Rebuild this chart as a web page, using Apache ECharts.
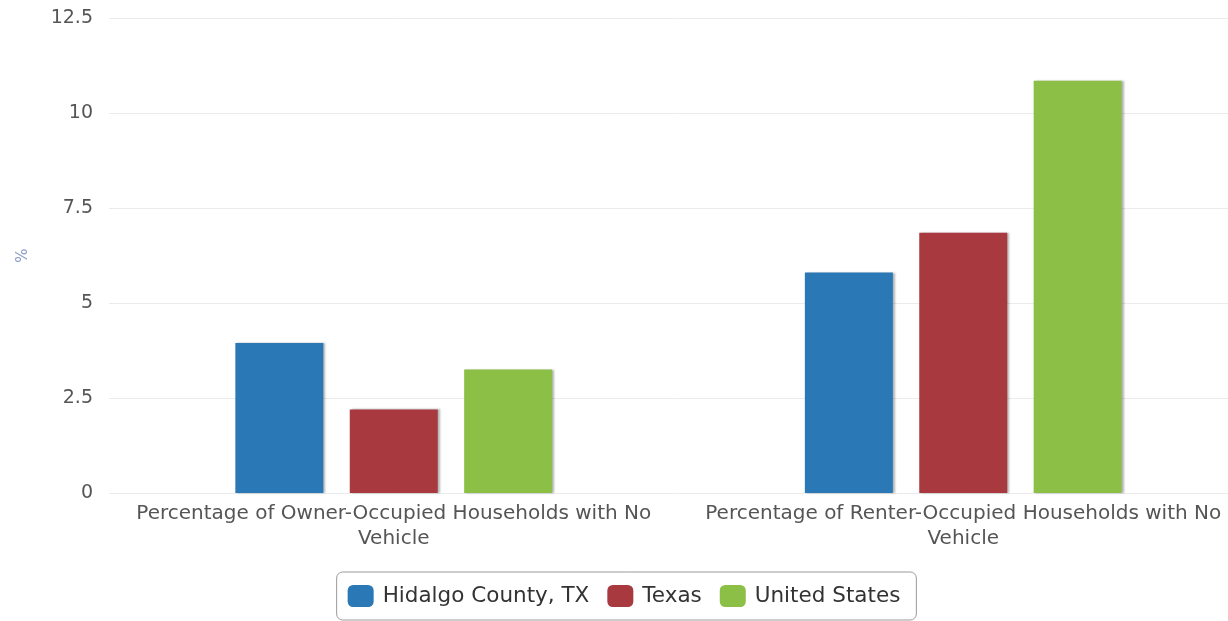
<!DOCTYPE html>
<html><head><meta charset="utf-8">
<script src="https://cdn.jsdelivr.net/npm/echarts@6/dist/echarts.min.js"></script>
<style>html,body{margin:0;padding:0;background:#fff;overflow:hidden}#c{width:1248px;height:621px}</style>
</head><body><div id="c"></div>
<script>
const categories = ["Percentage of Owner-Occupied Households with No\nVehicle", "Percentage of Renter-Occupied Households with No\nVehicle"];
const seriesNames = ["Hidalgo County, TX", "Texas", "United States"];
const hidalgo = [3.95, 5.8];
const texas = [2.2, 6.85];
const unitedStates = [3.25, 10.85];
const yTicks = [0, 2.5, 5, 7.5, 10, 12.5];
const colors = ["#2a79b6", "#a8393e", "#8bbf45"];

const font = "DejaVu Sans";
const chart = echarts.init(document.getElementById('c'));
const values = [hidalgo, texas, unitedStates];
chart.setOption({
  animation: false,
  textStyle: {fontFamily: font},
  grid: {left: 109, top: 18, right: 0, height: 475, containLabel: false},
  legend: {
    bottom: 1, left: 'center',
    data: seriesNames,
    itemWidth: 26, itemHeight: 22, itemGap: 18,
    icon: 'roundRect',
    borderColor: '#999', borderWidth: 1, borderRadius: 6,
    padding: [13, 16, 13, 11],
    textStyle: {fontFamily: font, fontSize: 21.5, color: '#333', padding: [0, 0, 0, 4]}
  },
  xAxis: {
    type: 'category', data: categories,
    axisLine: {show: false}, axisTick: {show: false},
    axisLabel: {fontFamily: font, fontSize: 20, color: '#555', lineHeight: 25, margin: 8, interval: 0}
  },
  yAxis: {
    type: 'value', min: 0, max: 12.5, interval: 2.5,
    name: '%', nameLocation: 'middle', nameGap: 78, nameRotate: 90,
    nameTextStyle: {color: '#8a9cc8', fontSize: 15, fontFamily: font},
    axisLabel: {fontFamily: font, fontSize: 19, color: '#555', margin: 16,
      formatter: v => yTicks.includes(v) ? String(v) : ''},
    splitLine: {lineStyle: {color: '#ebebeb', width: 1}},
    axisLine: {show: false}, axisTick: {show: false}
  },
  series: seriesNames.map((n, i) => ({
    name: n, type: 'bar', data: values[i],
    barWidth: 88, barGap: '30%',
    itemStyle: {color: colors[i], shadowColor: 'rgba(0,0,0,0.3)', shadowOffsetX: 2, shadowOffsetY: 0, shadowBlur: 2}
  }))
});
</script></body></html>
